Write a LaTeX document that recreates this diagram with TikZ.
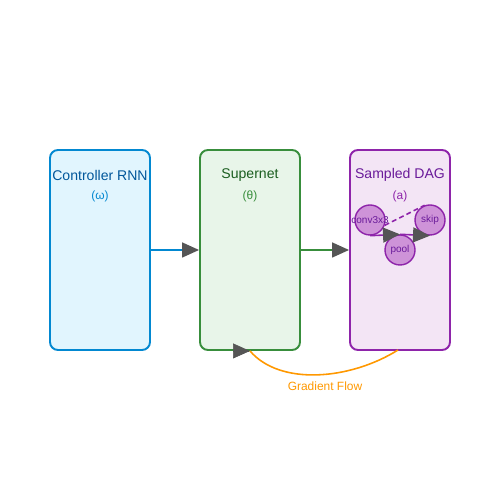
\documentclass[tikz,border=0pt]{standalone}
\usepackage{fontspec}
\setmainfont{Liberation Sans}
\usetikzlibrary{arrows.meta}

\definecolor{rnnfill}{HTML}{E1F5FE}
\definecolor{rnnline}{HTML}{0288D1}
\definecolor{rnntext}{HTML}{01579B}
\definecolor{supfill}{HTML}{E8F5E9}
\definecolor{supline}{HTML}{388E3C}
\definecolor{suptext}{HTML}{1B5E20}
\definecolor{dagfill}{HTML}{F3E5F5}
\definecolor{dagline}{HTML}{8E24AA}
\definecolor{dagtext}{HTML}{6A1B9A}
\definecolor{opfill}{HTML}{CE93D8}
\definecolor{gradcol}{HTML}{FF9800}
\definecolor{tipgray}{HTML}{555555}

\tikzset{
    box/.style={draw, rounded corners=0.16cm, line width=1.1pt,
        minimum width=2cm, minimum height=4cm, inner sep=0pt},
    title/.style={font=\fontsize{8}{9.6}\selectfont},
    param/.style={font=\fontsize{6.8}{8}\selectfont},
    op/.style={circle, draw=dagline, fill=opfill, line width=0.8pt,
        minimum size=0.6cm, inner sep=0pt, text=dagtext,
        font=\fontsize{5.7}{6.5}\selectfont},
    bigtip/.style={-{Triangle[length=0.34cm, width=0.3cm, color=tipgray]}},
}

\begin{document}
\begin{tikzpicture}
            \useasboundingbox (0,0) rectangle (10,10);

            \node[box, draw=rnnline, fill=rnnfill] (rnn) at (2,5) {};
            \node[box, draw=supline, fill=supfill] (sup) at (5,5) {};
            \node[box, draw=dagline, fill=dagfill] (dag) at (8,5) {};

            \node[title, text=rnntext] (rnnname) at (2,6.5) {Controller RNN};
            \node[title, text=suptext] (supname) at (5,6.5) {Supernet};
            \node[title, text=dagtext] (dagname) at (8,6.5) {Sampled DAG};
            \node[param, text=rnnline] (rnnparam) at (2,6.08) {(ω)};
            \node[param, text=supline] (supparam) at (5,6.08) {(θ)};
            \node[param, text=dagline] (dagparam) at (8,6.08) {(a)};

            \node[op] (conv) at (7.4,5.6) {\makebox[0pt]{conv3x3}};
            \node[op] (skip) at (8.6,5.6) {\makebox[0pt]{skip}};
            \node[op] (pool) at (8.0,5.0) {\makebox[0pt]{pool}};

            \draw[bigtip, rnnline, line width=0.9pt] (rnn.east) -- (sup.west);
            \draw[bigtip, supline, line width=0.9pt] (sup.east) -- (dag.west);

            \draw[bigtip, dagline, line width=0.9pt] (conv.south) -- (pool.north);
            \draw[bigtip, dagline, line width=0.9pt] (pool.north) -- (skip.south);
            \draw[dagline, line width=0.9pt, dash pattern=on 2.8pt off 1.8pt]
                (conv.-20) -- (skip.110);

            \coordinate (gradstart) at (7.96,3);
            \draw[gradcol, line width=0.9pt] (gradstart)
                .. controls (7.0,2.4) and (5.6,2.28) .. (sup.south);
            \draw[bigtip, tipgray] ([xshift=-0.02cm]sup.south) -- (sup.south);
            \node[param, text=gradcol] (gradname) at (6.5,2.28) {Gradient Flow};

        \end{tikzpicture}
\end{document}
